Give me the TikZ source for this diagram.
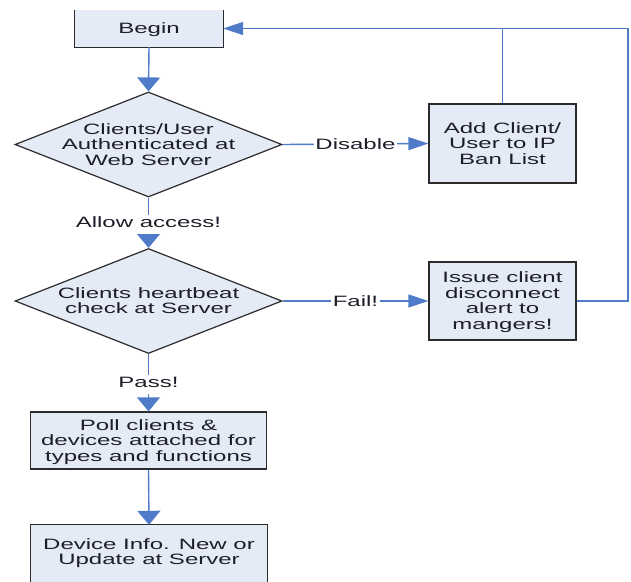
\documentclass[tikz,border=0pt]{standalone}
\usepackage{fontspec}
\setmainfont{Liberation Sans}
\usepackage{graphicx}
\usetikzlibrary{arrows.meta,shapes.geometric}
\definecolor{fillc}{HTML}{E4EBF6}
\definecolor{linec}{HTML}{4F7BC8}
\definecolor{edgec}{HTML}{2B2B2B}
\definecolor{textc}{HTML}{1E1E2A}
\newcommand{\stxt}[1]{\scalebox{1.6}[1]{\begin{tabular}{@{}c@{}}#1\end{tabular}}}
\begin{document}
\begin{tikzpicture}[x=1pt,y=-1pt,
  txt/.style={font=\fontsize{15}{15.5}\selectfont, text=textc, inner sep=0pt, yshift=-2pt},
  box/.style={draw=edgec, line width=1.3pt, fill=fillc, inner sep=0pt},
  dia/.style={diamond, draw=edgec, line width=1.2pt, fill=fillc, inner sep=0pt,
              minimum width=267pt, minimum height=105pt},
  lbl/.style={txt, fill=white, inner sep=1.5pt},
  conn/.style={draw=linec, line width=1.4pt},
  varr/.style={conn, -{Triangle[length=14pt,width=23pt]}},
  harr/.style={conn, -{Triangle[length=20pt,width=13pt]}}]
\useasboundingbox (0,0) rectangle (631,581);
\fill[white] (0,0) rectangle (631,581);

% Begin box (top edge cut off)
\node[fill=fillc, inner sep=0pt, minimum width=148pt, minimum height=37pt] (begin) at (149,28.5) {};
\draw[edgec, line width=1.3pt] (begin.north west) -- (begin.south west) -- (begin.south east) -- (begin.north east);
\node[txt] at (begin) {\stxt{Begin}};

% Decisions
\node[dia] (d1) at (148.5,144.5) {};
\node[txt] at (d1) {\stxt{Clients/User\\Authenticated at\\Web Server}};
\node[dia] (d2) at (148.5,301) {};
\node[txt] at (d2) {\stxt{Clients heartbeat\\check at Server}};

% Right boxes
\node[box, minimum width=147pt, minimum height=79pt] (add) at (502.5,143.5) {};
\node[txt] at (add) {\stxt{Add Client/\\User to IP\\Ban List}};
\node[box, minimum width=147pt, minimum height=78pt] (issue) at (502.5,301) {};
\node[txt] at (issue) {\stxt{Issue client\\disconnect\\alert to\\mangers!}};

% Lower boxes
\node[box, minimum width=236pt, minimum height=57pt] (poll) at (148.5,440.5) {};
\node[txt] at (poll) {\stxt{Poll clients \&\\devices attached for\\types and functions}};
\node[fill=fillc, inner sep=0pt, minimum width=236pt, minimum height=58pt] (device) at (149,554) {};
\draw[edgec, line width=1.3pt] (device.south west) -- (device.north west) -- (device.north east) -- (device.south east);
\node[txt] at (149,552) {\stxt{Device Info. New or\\Update at Server}};

% Connectors
\coordinate (rc) at (628,301);
\draw[varr] (begin.south) -- (d1.north);
\draw[harr] (d1.east) -- node[lbl] {\stxt{Disable}} (add.west);
\draw[varr] (d1.south) -- node[lbl] {\stxt{Allow access!}} (d2.north);
\draw[harr] (d2.east) -- node[lbl] {\stxt{Fail!}} (issue.west);
\draw[varr] (d2.south) -- node[lbl] {\stxt{Pass!}} (poll.north);
\draw[varr] (poll.south) -- (device.north);
\draw[conn] (add.north) -- (add.north |- begin.east);
\draw[harr] (issue.east) -- (rc) |- (begin.east);
\end{tikzpicture}
\end{document}
